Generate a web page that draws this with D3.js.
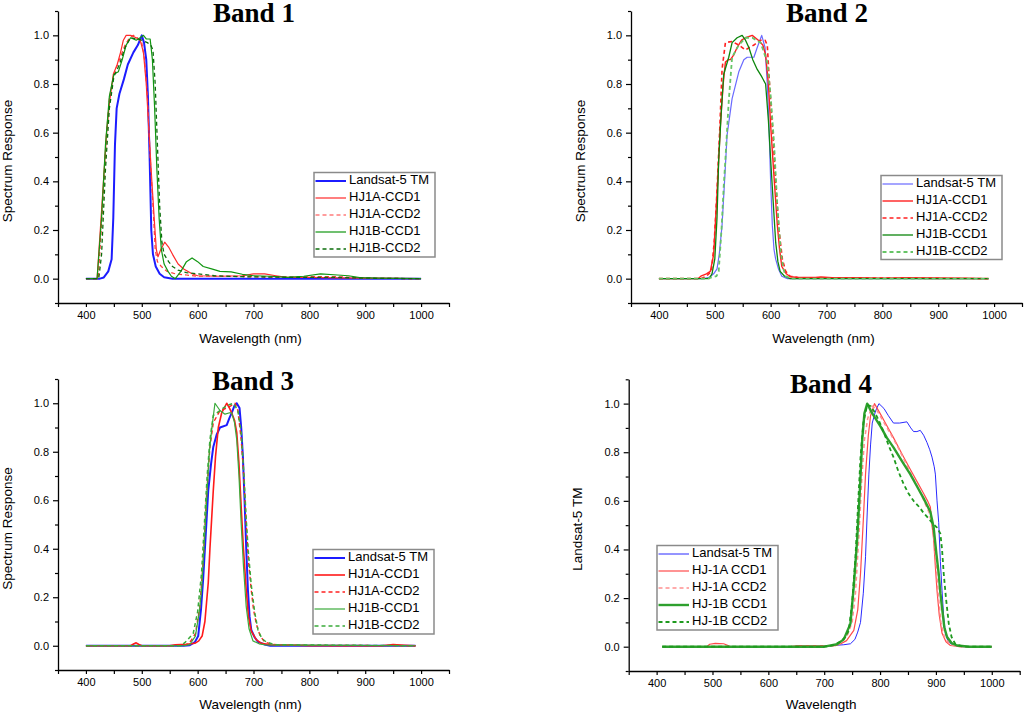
<!DOCTYPE html>
<html>
<head>
<meta charset="utf-8">
<script src="https://cdn.jsdelivr.net/npm/d3@7"></script>
<style>
  body { margin: 0; background: #fff; }
  svg text { font-family: "Liberation Sans", Arial, sans-serif; }
</style>
</head>
<body>
<div id="chart"></div>
<script>
// tick labels
const xTickValues = [400, 500, 600, 700, 800, 900, 1000];
const yTickValues = [0, 0.2, 0.4, 0.6, 0.8, 1.0];

const bandTitles = ['Band 1', 'Band 2', 'Band 3', 'Band 4'];
const namesHJ = ['Landsat-5 TM', 'HJ1A-CCD1', 'HJ1A-CCD2', 'HJ1B-CCD1', 'HJ1B-CCD2'];
const namesHJ4 = ['Landsat-5 TM', 'HJ-1A CCD1', 'HJ-1A CCD2', 'HJ-1B CCD1', 'HJ-1B CCD2'];

// [wavelength nm, response]
const b1TM = [[400,0],[425,0],[432,0.005],[440,0.03],[446,0.08],[449,0.25],[452,0.55],[455,0.70],[460,0.76],[468,0.82],[475,0.88],[485,0.93],[493,0.96],[500,1.0],[504,0.97],[508,0.9],[511,0.75],[514,0.5],[517,0.2],[520,0.1],[525,0.05],[532,0.02],[540,0.006],[555,0],[1000,0]];
const b1A1 = [[400,0],[420,0],[430,0.35],[437,0.6],[442,0.72],[449,0.84],[456,0.88],[462,0.93],[467,0.98],[472,1.0],[480,1.0],[490,0.99],[497,0.98],[503,0.93],[508,0.8],[513,0.6],[518,0.4],[523,0.22],[526,0.12],[529,0.09],[534,0.12],[541,0.15],[548,0.13],[555,0.1],[565,0.06],[575,0.04],[590,0.02],[600,0.012],[640,0.01],[680,0.012],[700,0.02],[720,0.02],[740,0.012],[760,0.005],[800,0.005],[850,0.003],[900,0.002],[1000,0]];
const b1A2 = [[400,0],[422,0],[430,0.3],[437,0.6],[442,0.74],[450,0.84],[460,0.9],[470,0.96],[478,0.99],[485,1.0],[492,0.99],[500,0.97],[505,0.9],[510,0.75],[515,0.5],[520,0.3],[524,0.12],[528,0.07],[535,0.05],[545,0.03],[560,0.02],[580,0.015],[600,0.01],[650,0.01],[700,0.008],[750,0.006],[800,0.008],[850,0.008],[880,0.005],[900,0.002],[1000,0]];
const b1B1 = [[400,0],[420,0],[428,0.25],[435,0.55],[442,0.75],[450,0.84],[458,0.85],[465,0.9],[472,0.96],[480,0.99],[490,0.98],[497,0.99],[503,1.0],[508,0.985],[515,0.985],[519,0.9],[523,0.7],[527,0.45],[531,0.25],[535,0.12],[540,0.06],[547,0.03],[553,0.01],[560,0],[570,0.03],[580,0.07],[590,0.085],[600,0.07],[610,0.05],[625,0.04],[640,0.03],[660,0.028],[680,0.018],[700,0.012],[730,0.01],[760,0.005],[790,0.01],[820,0.02],[850,0.015],[870,0.012],[890,0.004],[920,0.002],[1000,0]];
const b1B2 = [[400,0],[423,0],[428,0.1],[435,0.45],[442,0.7],[450,0.83],[460,0.88],[470,0.95],[480,0.99],[490,0.985],[500,0.98],[510,0.97],[516,0.96],[520,0.94],[524,0.8],[528,0.55],[532,0.3],[536,0.15],[540,0.1],[548,0.07],[555,0.05],[565,0.035],[580,0.025],[600,0.02],[630,0.012],[680,0.008],[750,0.006],[800,0.005],[850,0.005],[900,0.002],[1000,0]];

const b2TM = [[400,0],[480,0],[490,0.005],[498,0.02],[504,0.04],[508,0.1],[513,0.22],[518,0.42],[522,0.59],[531,0.74],[543,0.85],[552,0.9],[558,0.91],[570,0.91],[576,0.95],[584,1.0],[590,0.95],[594,0.8],[597,0.63],[600,0.4],[603,0.22],[606,0.12],[609,0.08],[614,0.04],[620,0.01],[630,0],[990,0]];
const b2A1 = [[400,0],[470,0],[475,0.01],[485,0.02],[492,0.03],[498,0.1],[504,0.35],[510,0.63],[515,0.8],[519,0.89],[524,0.9],[528,0.9],[534,0.92],[540,0.95],[548,0.98],[555,0.99],[567,1.0],[578,0.98],[586,0.96],[591,0.92],[596,0.8],[600,0.63],[606,0.42],[612,0.22],[616,0.12],[620,0.05],[628,0.02],[635,0.008],[650,0.005],[680,0.005],[690,0.007],[710,0.004],[760,0.004],[800,0.002],[840,0.004],[900,0.003],[950,0.002],[990,0]];
const b2A2 = [[400,0],[475,0],[485,0.01],[494,0.03],[499,0.15],[504,0.36],[509,0.62],[513,0.86],[519,0.97],[531,0.975],[543,0.96],[555,0.94],[562,0.95],[570,0.96],[582,0.98],[590,0.98],[594,0.96],[598,0.8],[603,0.63],[609,0.4],[615,0.2],[621,0.08],[627,0.03],[635,0.01],[650,0.004],[990,0]];
const b2B1 = [[400,0],[490,0],[495,0.02],[500,0.08],[504,0.25],[507,0.49],[512,0.7],[516,0.84],[525,0.91],[531,0.97],[540,0.99],[549,1.0],[555,0.98],[561,0.95],[568,0.9],[576,0.86],[584,0.83],[591,0.8],[596,0.65],[600,0.49],[605,0.3],[609,0.15],[613,0.07],[617,0.03],[625,0.01],[635,0],[990,0]];
const b2B2 = [[400,0],[485,0],[495,0.005],[503,0.01],[507,0.03],[512,0.2],[516,0.38],[519,0.49],[525,0.73],[531,0.91],[543,0.96],[555,0.99],[567,0.99],[582,0.97],[594,0.89],[600,0.75],[606,0.56],[612,0.3],[618,0.11],[623,0.04],[627,0.01],[640,0],[990,0]];

const b3TM = [[400,0],[575,0],[586,0.002],[595,0.015],[601,0.04],[606,0.15],[610,0.28],[615,0.48],[619,0.64],[624,0.75],[628,0.82],[634,0.87],[640,0.9],[652,0.91],[657,0.94],[661,0.96],[666,0.99],[670,1.0],[675,0.98],[678,0.9],[681,0.78],[684,0.6],[687,0.4],[690,0.23],[693,0.12],[696,0.065],[702,0.035],[708,0.016],[720,0.005],[730,0],[990,0]];
const b3A1 = [[400,0],[480,0],[486,0.008],[490,0.012],[495,0.005],[500,0],[550,0],[560,0.004],[580,0.006],[595,0.01],[602,0.02],[608,0.04],[613,0.1],[616,0.18],[619,0.26],[622,0.4],[625,0.52],[628,0.64],[632,0.78],[637,0.9],[643,0.96],[652,1.0],[657,0.98],[661,0.96],[666,0.93],[670,0.88],[674,0.75],[678,0.57],[682,0.4],[687,0.23],[691,0.12],[696,0.06],[705,0.025],[714,0.01],[730,0.004],[760,0.003],[800,0],[930,0],[950,0.005],[970,0.002],[990,0]];
const b3A2 = [[400,0],[560,0],[580,0.005],[588,0.02],[596,0.05],[604,0.16],[610,0.35],[616,0.62],[622,0.82],[628,0.92],[640,0.97],[652,0.98],[660,0.99],[667,1.0],[672,0.97],[678,0.85],[682,0.72],[687,0.5],[691,0.35],[696,0.23],[700,0.15],[705,0.09],[712,0.04],[720,0.015],[735,0.005],[760,0.002],[990,0]];
const b3B1 = [[400,0],[575,0],[586,0.005],[596,0.04],[603,0.14],[607,0.23],[612,0.43],[617,0.64],[621,0.8],[625,0.89],[631,1.0],[640,0.97],[649,0.955],[656,0.96],[661,0.96],[666,0.92],[670,0.85],[674,0.7],[678,0.5],[682,0.33],[687,0.16],[692,0.07],[699,0.02],[710,0.008],[720,0.004],[990,0]];
const b3B2 = [[400,0],[570,0],[578,0.015],[584,0.03],[592,0.05],[600,0.14],[607,0.3],[612,0.5],[617,0.7],[622,0.85],[628,0.95],[640,0.97],[652,0.99],[664,1.0],[672,0.97],[678,0.88],[683,0.7],[687,0.52],[691,0.38],[696,0.25],[702,0.14],[708,0.065],[715,0.03],[723,0.015],[740,0.004],[990,0]];

const b4TM = [[410,0],[700,0],[717,0.005],[735,0.008],[747,0.012],[755,0.03],[760,0.06],[765,0.1],[770,0.22],[774,0.37],[777,0.55],[780,0.71],[783,0.83],[786,0.92],[792,0.97],[798,1.0],[807,0.98],[815,0.95],[824,0.92],[835,0.92],[848,0.925],[855,0.9],[860,0.885],[866,0.885],[872,0.89],[878,0.87],[884,0.84],[889,0.81],[893,0.78],[897,0.74],[899,0.71],[902,0.6],[905,0.51],[908,0.35],[911,0.23],[914,0.12],[917,0.054],[922,0.02],[932,0.005],[950,0],[1000,0]];
const b4A1 = [[410,0],[490,0],[495,0.01],[505,0.014],[520,0.012],[528,0.005],[532,0],[640,0],[650,0.004],[720,0.004],[728,0.01],[740,0.025],[753,0.067],[760,0.15],[765,0.3],[770,0.52],[774,0.71],[779,0.87],[783,0.95],[790,1.0],[800,0.96],[812,0.91],[824,0.86],[840,0.79],[854,0.73],[866,0.68],[878,0.63],[885,0.6],[890,0.575],[893,0.5],[896,0.44],[899,0.33],[902,0.23],[906,0.13],[911,0.055],[918,0.02],[926,0.005],[945,0],[1000,0]];
const b4A2 = [[410,0],[640,0],[660,0.003],[720,0.004],[730,0.015],[742,0.05],[750,0.1],[756,0.22],[762,0.45],[767,0.68],[772,0.85],[778,0.94],[786,0.99],[792,0.98],[800,0.95],[815,0.89],[830,0.83],[845,0.76],[860,0.69],[875,0.62],[888,0.55],[895,0.48],[900,0.35],[904,0.22],[909,0.1],[915,0.04],[925,0.01],[940,0],[1000,0]];
const b4B1 = [[410,0],[700,0],[723,0.01],[735,0.03],[747,0.095],[753,0.25],[759,0.44],[764,0.65],[768,0.85],[772,0.96],[777,1.0],[786,0.96],[801,0.905],[812,0.86],[824,0.82],[840,0.76],[854,0.71],[866,0.66],[878,0.61],[890,0.555],[896,0.49],[901,0.38],[905,0.3],[908,0.22],[911,0.16],[915,0.08],[920,0.04],[928,0.015],[938,0.005],[960,0],[1000,0]];
const b4B2 = [[410,0],[700,0],[715,0.005],[728,0.02],[738,0.04],[744,0.067],[750,0.18],[756,0.37],[761,0.6],[765,0.78],[770,0.92],[777,0.995],[783,0.99],[789,0.97],[798,0.93],[807,0.88],[815,0.83],[824,0.78],[833,0.72],[842,0.67],[851,0.63],[860,0.6],[870,0.575],[878,0.55],[886,0.53],[893,0.51],[902,0.49],[908,0.465],[911,0.4],[914,0.3],[918,0.2],[923,0.095],[928,0.04],[935,0.01],[950,0],[1000,0]];

const width = 1024, height = 713;

// layout + line styles for each panel
const panels = [
  { title: bandTitles[0], series: [b1TM, b1A1, b1A2, b1B1, b1B2], names: namesHJ,
    left: 58, right: 449, top: 11, bottom: 303, titleX: 254, titleY: 22,
    yLabel: 'Spectrum Response', yLabelX: 8, xLabel: 'Wavelength (nm)', xLabelY: 339,
    legend: { x: 314, y: 172.5, w: 121, h: 84.5 },
    styles: [
      { c: '#1c1cff', w: 2, d: null }, { c: '#ff2a2a', w: 1.2, d: null }, { c: '#ff3a3a', w: 1.2, d: '4,3' },
      { c: '#119611', w: 1.2, d: null }, { c: '#0b6e0b', w: 1.3, d: '4,3' }] },
  { title: bandTitles[1], series: [b2TM, b2A1, b2A2, b2B1, b2B2], names: namesHJ,
    left: 631, right: 1022, top: 11, bottom: 303, titleX: 827, titleY: 22,
    yLabel: 'Spectrum Response', yLabelX: 581, xLabel: 'Wavelength (nm)', xLabelY: 339,
    legend: { x: 881, y: 175.5, w: 121, h: 84 },
    styles: [
      { c: '#6a6aff', w: 1.2, d: null }, { c: '#ff2020', w: 1.4, d: null }, { c: '#ff2020', w: 1.6, d: '4,3' },
      { c: '#0c860c', w: 1.3, d: null }, { c: '#66c466', w: 1.8, d: '4,3' }] },
  { title: bandTitles[2], series: [b3TM, b3A1, b3A2, b3B1, b3B2], names: namesHJ,
    left: 58, right: 449, top: 379, bottom: 670, titleX: 253, titleY: 390,
    yLabel: 'Spectrum Response', yLabelX: 8, xLabel: 'Wavelength (nm)', xLabelY: 705,
    legend: { x: 313, y: 549.5, w: 121, h: 84.5 },
    styles: [
      { c: '#1c1cff', w: 2, d: null }, { c: '#ff1a1a', w: 1.6, d: null }, { c: '#ff2020', w: 1.4, d: '4,3' },
      { c: '#3aaa3a', w: 1.2, d: null }, { c: '#3aaa3a', w: 1.5, d: '4,3' }] },
  { title: bandTitles[3], series: [b4TM, b4A1, b4A2, b4B1, b4B2], names: namesHJ4,
    left: 628.7, right: 1019.7, top: 379.3, bottom: 671, titleX: 831, titleY: 393,
    yLabel: 'Landsat-5 TM', yLabelX: 578, xLabel: 'Wavelength', xLabelY: 705,
    legend: { x: 657, y: 545.5, w: 121, h: 84.5 },
    styles: [
      { c: '#2a2aff', w: 1, d: null }, { c: '#ff4a4a', w: 1.2, d: null }, { c: '#ff9090', w: 1.5, d: '4,3' },
      { c: '#2ea02e', w: 2.4, d: null }, { c: '#1e9a1e', w: 1.8, d: '4,3' }] }
];

const svg = d3.select('#chart')
  .append('svg')
  .attr('width', width)
  .attr('height', height);

panels.forEach(p => {
  const xScale = d3.scaleLinear().domain([350, 1050]).range([p.left, p.right]);
  const yScale = d3.scaleLinear().domain([-0.1, 1.1]).range([p.bottom, p.top]);
  const g = svg.append('g');

  // curves
  const line = d3.line().x(d => xScale(d[0])).y(d => yScale(d[1]));
  p.series.forEach((s, i) => {
    const st = p.styles[i];
    g.append('path')
      .datum(s)
      .attr('d', line)
      .attr('fill', 'none')
      .attr('stroke', st.c)
      .attr('stroke-width', st.w)
      .attr('stroke-dasharray', st.d)
      .attr('stroke-linejoin', 'round');
  });

  // x axis: ticks every 50, labels on hundreds
  const xAxis = d3.axisBottom(xScale)
    .tickValues(d3.range(350, 1051, 50))
    .tickSize(4)
    .tickSizeOuter(0)
    .tickFormat(v => xTickValues.includes(v) ? String(v) : '');
  const gx = g.append('g')
    .attr('transform', `translate(0,${p.bottom})`)
    .call(xAxis);

  // y axis: major + minor ticks
  const yAxis = d3.axisLeft(yScale)
    .tickValues(yTickValues)
    .tickSize(5)
    .tickSizeOuter(0)
    .tickFormat(d3.format('.1f'));
  const gy = g.append('g')
    .attr('transform', `translate(${p.left},0)`)
    .call(yAxis);
  const gyMinor = g.append('g')
    .attr('transform', `translate(${p.left},0)`)
    .call(d3.axisLeft(yScale).tickValues([-0.1, 0.1, 0.3, 0.5, 0.7, 0.9, 1.1]).tickSize(3).tickSizeOuter(0).tickFormat(''));
  gyMinor.select('.domain').remove();

  [gx, gy, gyMinor].forEach(a => {
    a.selectAll('.domain').attr('stroke', '#000').attr('stroke-width', 1.3);
    a.selectAll('.tick line').attr('stroke', '#000').attr('stroke-width', 1.2);
    a.selectAll('.tick text').attr('fill', '#000').style('font-size', '11px');
  });
  gx.selectAll('.tick text').attr('dy', '0.95em').attr('y', 6);
  gy.selectAll('.tick text').attr('x', -9);

  // title
  g.append('text')
    .attr('x', p.titleX)
    .attr('y', p.titleY)
    .attr('text-anchor', 'middle')
    .style('font-family', '"Liberation Serif", "Times New Roman", serif')
    .style('font-weight', 'bold')
    .style('font-size', '27px')
    .text(p.title);

  // axis labels
  g.append('text')
    .attr('transform', `translate(${p.yLabelX},${(p.top + p.bottom) / 2 + 4}) rotate(-90)`)
    .attr('text-anchor', 'middle')
    .attr('dominant-baseline', 'middle')
    .style('font-size', '13.5px')
    .text(p.yLabel);
  g.append('text')
    .attr('x', (p.left + p.right) / 2 - 3)
    .attr('y', p.xLabelY)
    .attr('text-anchor', 'middle')
    .attr('dominant-baseline', 'middle')
    .style('font-size', '13.5px')
    .text(p.xLabel);

  // legend
  const L = p.legend;
  const lg = g.append('g').attr('transform', `translate(${L.x},${L.y})`);
  lg.append('rect')
    .attr('width', L.w)
    .attr('height', L.h)
    .attr('fill', '#fff')
    .attr('stroke', '#8a8a8a')
    .attr('stroke-width', 1.5);
  p.names.forEach((name, i) => {
    const st = p.styles[i];
    const yy = 8.5 + i * 17;
    lg.append('line')
      .attr('x1', 1.5).attr('x2', 32)
      .attr('y1', yy).attr('y2', yy)
      .attr('stroke', st.c)
      .attr('stroke-width', st.w)
      .attr('stroke-dasharray', st.d);
    lg.append('text')
      .attr('x', 35)
      .attr('y', yy)
      .attr('dominant-baseline', 'middle')
      .style('font-size', '13px')
      .text(name);
  });
});
</script>
</body>
</html>
